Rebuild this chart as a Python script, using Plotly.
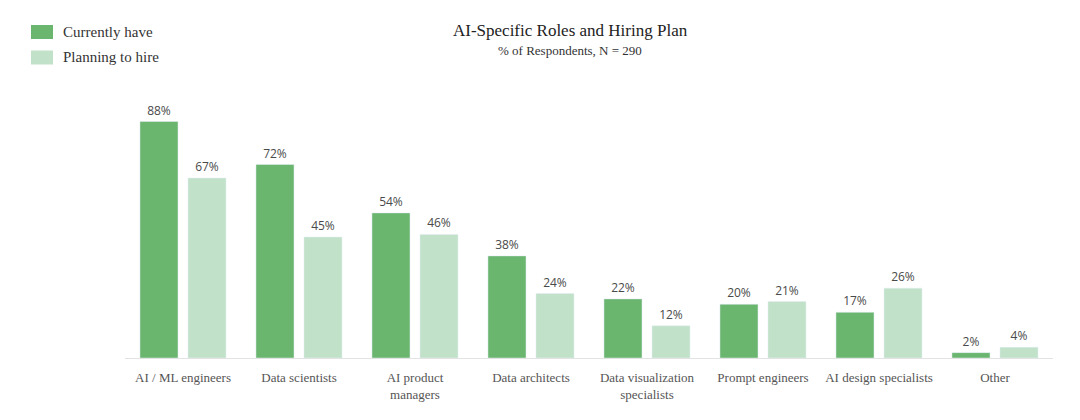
import plotly.graph_objects as go

categories = ["AI / ML engineers", "Data scientists", "AI product<br>managers", "Data architects",
              "Data visualization<br>specialists", "Prompt engineers", "AI design specialists", "Other"]
currently_have = [88, 72, 54, 38, 22, 20, 17, 2]
planning_to_hire = [67, 45, 46, 24, 12, 21, 26, 4]
series_names = ["Currently have", "Planning to hire"]
series_colors = ["#6bb66f", "#c1e2c8"]

SERIF = "Liberation Serif"
SANS = "Open Sans"

W, H = 1080, 420
OFF = 8  # page body margin
L, R, T, B = 125 - OFF, 27 + OFF, 100 - OFF, 62 + OFF
PW, PH = W - L - R, H - T - B


def px_x(x):
    return (x - OFF - L) / PW


def px_y(y):
    return (H - B - (y - OFF)) / PH


fig = go.Figure()
for name, vals, col in zip(series_names, [currently_have, planning_to_hire], series_colors):
    fig.add_trace(go.Bar(
        name=name, x=categories, y=vals,
        marker_color=col,
        text=[f"{v}%" for v in vals], textposition="outside",
        textfont=dict(family=SANS, size=12, color="#4a4a4a"),
        cliponaxis=False,
    ))

shapes = []
annotations = [
    dict(text="AI-Specific Roles and Hiring Plan", xref="paper", yref="paper",
         x=px_x(570), y=px_y(31), xanchor="center", yanchor="middle",
         showarrow=False, font=dict(family=SERIF, size=17, color="#222222")),
    dict(text="% of Respondents, N = 290", xref="paper", yref="paper",
         x=px_x(570), y=px_y(50), xanchor="center", yanchor="middle",
         showarrow=False, font=dict(family=SERIF, size=13, color="#333333")),
]
# legend swatches and labels
for i, (name, col) in enumerate(zip(series_names, series_colors)):
    top = 25 + i * 25.5
    shapes.append(dict(type="rect", xref="paper", yref="paper",
                       x0=px_x(31), x1=px_x(53), y0=px_y(top + 14), y1=px_y(top),
                       fillcolor=col, line=dict(width=0)))
    annotations.append(dict(text=name, xref="paper", yref="paper",
                            x=px_x(61), y=px_y(top + 6.5), xanchor="left", yanchor="middle",
                            showarrow=False, font=dict(family=SERIF, size=15, color="#333333")))

fig.update_layout(
    width=W, height=H,
    margin=dict(l=L, r=R, t=T, b=B, autoexpand=False),
    paper_bgcolor="white", plot_bgcolor="white",
    barmode="group", bargap=0.172, bargroupgap=0.208,
    showlegend=False,
    shapes=shapes,
    annotations=annotations,
    xaxis=dict(
        showline=True, linecolor="#e3e3e3", linewidth=1, ticks="",
        tickfont=dict(family=SERIF, size=13, color="#555555"),
        ticklabelstandoff=7,
        showgrid=False,
    ),
    yaxis=dict(range=[0, 96], visible=False, showgrid=False, zeroline=False),
)

fig.write_html("out.html")
